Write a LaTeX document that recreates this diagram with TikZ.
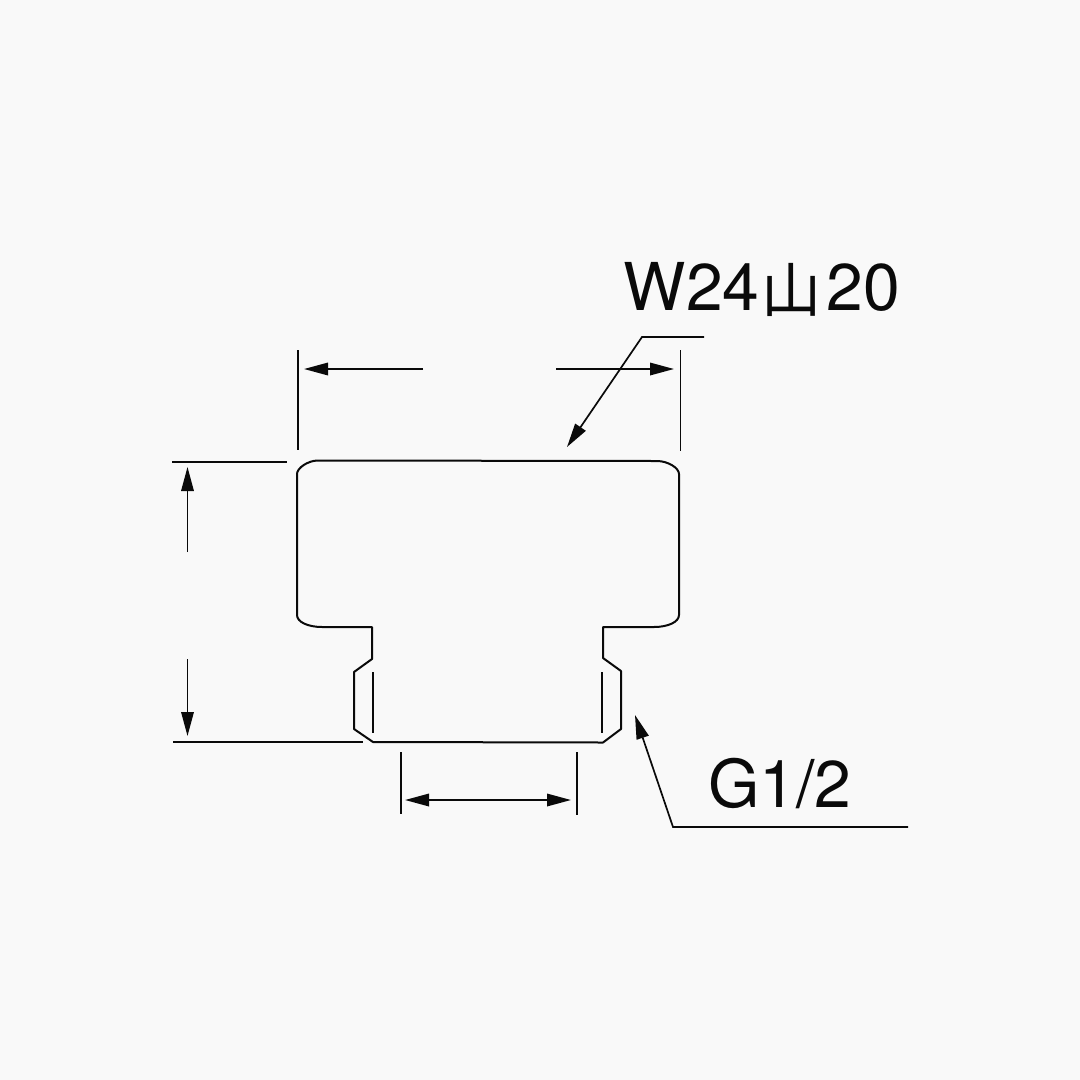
\documentclass[tikz,border=0pt]{standalone}
\usepackage{fontspec}
\setmainfont{TeX Gyre Heros}
\newfontfamily\cjkfont{Noto Sans CJK JP}
\usetikzlibrary{arrows.meta}
\definecolor{bgc}{HTML}{F9F9F9}
\definecolor{ink}{HTML}{0A0A0A}
\tikzset{
  outline/.style={draw=ink,line width=2pt,line join=round},
  dimline/.style={draw=ink,line width=1.7pt},
  dimarrow/.style={dimline,-{Stealth[length=24pt,width=12.5pt,inset=0pt]}},
  dimboth/.style={dimline,{Stealth[length=24pt,width=12.5pt,inset=0pt]}-{Stealth[length=24pt,width=12.5pt,inset=0pt]}},
  lab/.style={inner sep=0pt,anchor=base west,text=ink,font=\fontsize{66pt}{66pt}\selectfont}
}
\begin{document}
\begin{tikzpicture}[x=1pt,y=-1pt]
\useasboundingbox[fill=bgc] (0,0) rectangle (1080,1080);
% body
\draw[outline] (318,460.5) -- (657,461)
  .. controls (668,461) and (679,468) .. (679,474) -- (679,615)
  .. controls (679,622) and (668,627) .. (654,627) -- (603,627) -- (603,658)
  -- (621,671) -- (621,729) -- (603,742.5) -- (373,742) -- (354,729) -- (354,672) -- (372,659) -- (372,627) -- (322,627)
  .. controls (308,627) and (297,622) .. (297,615) -- (297,474)
  .. controls (297,468) and (308,460.5) .. (318,460.5) -- cycle;
\coordinate (tl) at (373,672); \coordinate (bl) at (373,733);
\coordinate (tr) at (602,672); \coordinate (br) at (602,733);
\draw[outline] (tl) -- (bl);
\draw[outline] (tr) -- (br);
% extension lines
\coordinate (e1a) at (298,350); \coordinate (e1b) at (298,450);
\coordinate (e2a) at (680.5,350); \coordinate (e2b) at (680.5,451);
\coordinate (e3a) at (172,462); \coordinate (e3b) at (287,462);
\coordinate (e4a) at (173,742); \coordinate (e4b) at (363,742);
\coordinate (e5a) at (401,752); \coordinate (e5b) at (401,814);
\coordinate (e6a) at (577,752); \coordinate (e6b) at (577,815);
\draw[dimline] (e1a) -- (e1b);
\draw[dimline] (e2a) -- (e2b);
\draw[dimline] (e3a) -- (e3b);
\draw[dimline] (e4a) -- (e4b);
\draw[dimline] (e5a) -- (e5b);
\draw[dimline] (e6a) -- (e6b);
% dimension arrows
\coordinate (a1s) at (423,369); \coordinate (a1t) at (304,369);
\coordinate (a2s) at (556,369); \coordinate (a2t) at (674,369);
\coordinate (a3s) at (187.5,552); \coordinate (a3t) at (187.5,467);
\coordinate (a4s) at (187.5,659); \coordinate (a4t) at (187.5,736);
\coordinate (a5s) at (405,800); \coordinate (a5t) at (571,800);
\draw[dimarrow] (a1s) -- (a1t);
\draw[dimarrow] (a2s) -- (a2t);
\draw[dimarrow] (a3s) -- (a3t);
\draw[dimarrow] (a4s) -- (a4t);
\draw[dimboth] (a5s) -- (a5t);
% labels
\node[lab] (w) at (623.5,310) {W24{\cjkfont\fontsize{60pt}{60pt}\selectfont\kern2.5pt\raisebox{-2pt}{山}\kern5pt}20};
\node[lab] (g) at (708,807) {G1/2};
% leaders
\coordinate (l1a) at (704,337); \coordinate (l1b) at (642,337); \coordinate (l1c) at (567,447);
\coordinate (l2a) at (908,827); \coordinate (l2b) at (673,827); \coordinate (l2c) at (635,715);
\draw[dimarrow,line join=miter] (l1a) -- (l1b) -- (l1c);
\draw[dimarrow,line join=miter] (l2a) -- (l2b) -- (l2c);
\end{tikzpicture}
\end{document}
